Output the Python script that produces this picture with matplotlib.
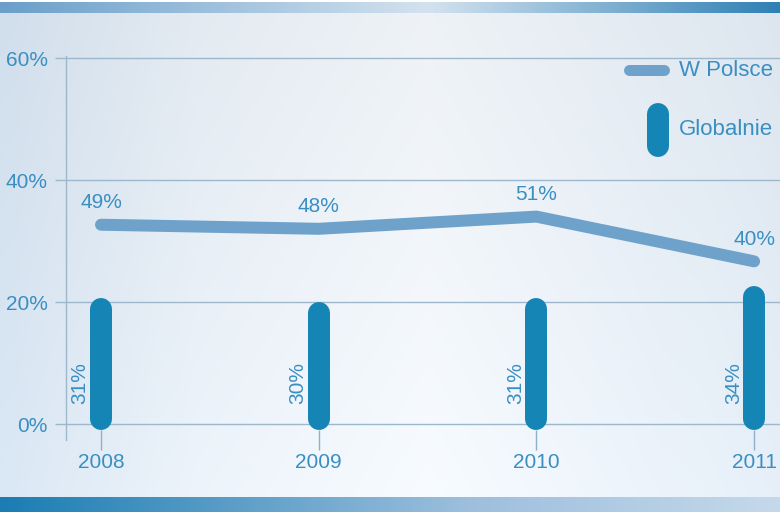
import numpy as np
import matplotlib
matplotlib.use("Agg")
import matplotlib.pyplot as plt
from matplotlib.lines import Line2D
from matplotlib.legend_handler import HandlerBase
from matplotlib.colors import to_rgb

# ---- data ----
years = ["2008", "2009", "2010", "2011"]
w_polsce = [49, 48, 51, 40]      # line series
globalnie = [31, 30, 31, 34]     # bar series
ytick_vals = [0, 30, 60, 90]
ytick_labels = ["0%", "20%", "40%", "60%"]

TXT = "#3a8fc2"
GRID = "#9db7cd"
LINE_C = "#6ea2cb"
BAR_C = "#1585b6"
FONT = "Liberation Sans"
FS = 15

W, H = 780, 520
fig = plt.figure(figsize=(W / 100, H / 100), dpi=100)

# ---- background ----
def hgrad(stops, n):
    xs = np.linspace(0, 1, n)
    pos = [s[0] for s in stops]
    cols = np.array([to_rgb(s[1]) for s in stops])
    return np.stack([np.interp(xs, pos, cols[:, k]) for k in range(3)], axis=1)

img = np.ones((H, W, 3))
panel = hgrad([(0, "#d6e3f0"), (0.25, "#e8eff6"), (0.55, "#f3f7fb"), (0.8, "#e9f0f7"), (1, "#e2ebf4")], W)
vert = np.linspace(-0.02, 0.02, H)[:, None, None]
img[13:497] = np.clip(panel[None, :, :] + vert[13:497], 0, 1)
top = hgrad([(0, "#6a9fca"), (0.55, "#d3e2ef"), (1, "#2f80b5")], W)
img[2:13] = top[None, :, :]
bot = hgrad([(0, "#1a7db3"), (0.6, "#9dbfdd"), (1, "#c5d9ea")], W)
img[497:512] = bot[None, :, :]
bg = fig.add_axes([0, 0, 1, 1], zorder=0)
bg.imshow(img, aspect="auto", interpolation="bilinear")
bg.axis("off")

# ---- main axes ----
ax_l, ax_r, ax_t, ax_b = 66, 780, 56, 440
ax = fig.add_axes([ax_l / W, (H - ax_b) / H, (ax_r - ax_l) / W, (ax_b - ax_t) / H], zorder=1)
ax.set_facecolor("none")
ppu = (424 - 58) / 90.0
ax.set_ylim(-(ax_b - 424) / ppu, 90 + (58 - ax_t) / ppu)
step = 217.7
ax.set_xlim((ax_l - 101) / step, (ax_r - 101) / step)

x = np.arange(len(years))

for s in ["top", "right", "bottom"]:
    ax.spines[s].set_visible(False)
ax.spines["left"].set_color(GRID)
ax.spines["left"].set_linewidth(1.0)

ax.set_yticks(ytick_vals)
ax.set_yticklabels(ytick_labels)
ax.yaxis.grid(True, color=GRID, linewidth=1.0)
ax.tick_params(axis="y", length=8, width=1.0, color=GRID, pad=5,
               labelsize=FS, labelcolor=TXT)
ax.set_xticks(x)
ax.set_xticklabels(years)
ax.tick_params(axis="x", direction="inout", length=14, width=1.0, color="#8fb0c8",
               pad=2, labelsize=FS, labelcolor=TXT)
for lbl in ax.get_xticklabels() + ax.get_yticklabels():
    lbl.set_fontfamily(FONT)
ax.set_axisbelow(True)

# ---- bars (Globalnie), drawn as thick round-capped strokes ----
bar_lw = 22 * 0.72
r_data = 11 / ppu
base = -1.5
for xi, v in zip(x, globalnie):
    ax.plot([xi, xi], [base + r_data, v - r_data], color=BAR_C,
            linewidth=bar_lw, solid_capstyle="round", zorder=3)
for xi, v in zip(x, globalnie):
    ax.annotate(f"{v}%", (xi, 10), xytext=(-15, 0), textcoords="offset points",
                rotation=90, ha="center", va="center", color=TXT,
                fontsize=FS, fontfamily=FONT, zorder=4)

# ---- line (W Polsce) ----
ax.plot(x, w_polsce, color=LINE_C, linewidth=12 * 0.72, solid_capstyle="round",
        solid_joinstyle="round", zorder=4)
for xi, v in zip(x, w_polsce):
    ax.annotate(f"{v}%", (xi, v), xytext=(0, 16), textcoords="offset points",
                ha="center", va="center", color=TXT, fontsize=FS,
                fontfamily=FONT, zorder=5)

# ---- legend ----
class VBarHandler(HandlerBase):
    def create_artists(self, legend, orig_handle, xdescent, ydescent,
                       width, height, fontsize, trans):
        lw = 22 * 0.72
        r = lw / 2
        shift = 6.5
        cx = width * 0.75 - xdescent
        l = Line2D([cx, cx], [-ydescent + r - shift, height - r - shift],
                   color=BAR_C, linewidth=lw, solid_capstyle="round",
                   transform=trans)
        return [l]

class HLineHandler(HandlerBase):
    def create_artists(self, legend, orig_handle, xdescent, ydescent,
                       width, height, fontsize, trans):
        lw = 11 * 0.72
        y = (height - ydescent) / 2 - 5
        l = Line2D([-xdescent + lw / 2, width - xdescent - lw / 2], [y, y],
                   color=LINE_C, linewidth=lw, solid_capstyle="round",
                   transform=trans)
        return [l]

h_line = Line2D([0, 1], [0, 1], color=LINE_C)
h_bar = Line2D([0, 1], [0, 1], color=BAR_C)
leg = ax.legend([h_line, h_bar], ["W Polsce", "Globalnie"],
                handler_map={h_bar: VBarHandler(), h_line: HLineHandler()},
                loc="upper right", bbox_to_anchor=(1.0 - 7 / 714, 1.0 + 7 / 384),
                frameon=False, prop={"family": FONT, "size": 16},
                handlelength=2.1, handleheight=2.45, labelspacing=0.8,
                handletextpad=0.4, borderaxespad=0.0, borderpad=0.0)
for t in leg.get_texts():
    t.set_color(TXT)
leg.set_zorder(6)

fig.savefig("out.png", dpi=100)
